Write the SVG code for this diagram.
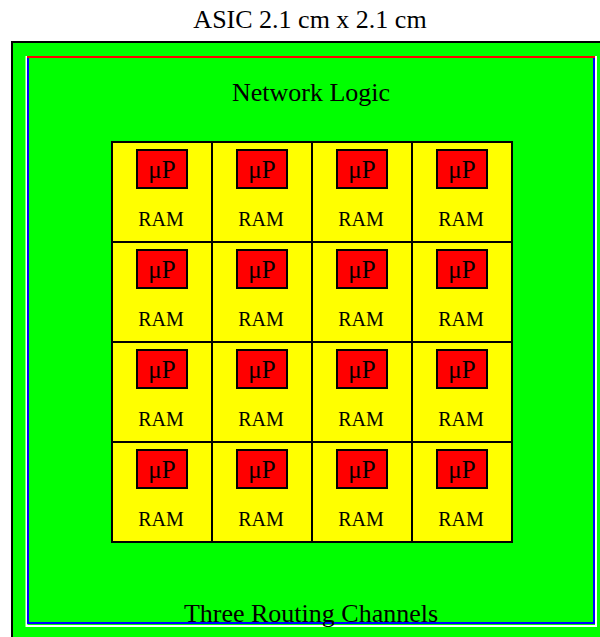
<svg xmlns="http://www.w3.org/2000/svg" width="600" height="637" viewBox="0 0 600 637">
<style>
text{font-family:"Liberation Serif","Times New Roman",serif;fill:#000;text-anchor:middle}
.lbl{font-size:26px}
.cell{fill:#ffff00;stroke:#000;stroke-width:2}
.up{fill:#ff0000;stroke:#000;stroke-width:2}
.upt{font-size:25px}
.ram{font-size:20px}
</style>
<defs>
<g id="tile">
<rect class="cell" x="1" y="1" width="100" height="100"/>
<rect class="up" x="26" y="9" width="50" height="38"/>
<text class="upt" x="51" y="37">μP</text>
<text class="ram" x="50" y="85">RAM</text>
</g>
</defs>
<rect width="600" height="637" fill="#fff"/>
<g id="asic">
<rect x="12" y="42" width="620" height="620" fill="#00ff00" stroke="#000" stroke-width="2"/>
<text class="lbl" x="310" y="28">ASIC 2.1 cm x 2.1 cm</text>
</g>
<g id="channels">
<polyline points="26.5,56 26.5,626 596,626 596,56" fill="none" stroke="#fff" stroke-width="2"/>
<rect x="28" y="57" width="566" height="566" fill="none" stroke="#0000ff" stroke-width="2"/>
<line x1="27" y1="57" x2="595" y2="57" stroke="#ff0000" stroke-width="2"/>
</g>
<g id="network-logic"><text class="lbl" x="311" y="101">Network Logic</text></g>
<g id="grid">
<g id="cell-0-0"><use href="#tile" x="111" y="141"/></g>
<g id="cell-0-1"><use href="#tile" x="211" y="141"/></g>
<g id="cell-0-2"><use href="#tile" x="311" y="141"/></g>
<g id="cell-0-3"><use href="#tile" x="411" y="141"/></g>
<g id="cell-1-0"><use href="#tile" x="111" y="241"/></g>
<g id="cell-1-1"><use href="#tile" x="211" y="241"/></g>
<g id="cell-1-2"><use href="#tile" x="311" y="241"/></g>
<g id="cell-1-3"><use href="#tile" x="411" y="241"/></g>
<g id="cell-2-0"><use href="#tile" x="111" y="341"/></g>
<g id="cell-2-1"><use href="#tile" x="211" y="341"/></g>
<g id="cell-2-2"><use href="#tile" x="311" y="341"/></g>
<g id="cell-2-3"><use href="#tile" x="411" y="341"/></g>
<g id="cell-3-0"><use href="#tile" x="111" y="441"/></g>
<g id="cell-3-1"><use href="#tile" x="211" y="441"/></g>
<g id="cell-3-2"><use href="#tile" x="311" y="441"/></g>
<g id="cell-3-3"><use href="#tile" x="411" y="441"/></g>
</g>
<g id="routing"><text class="lbl" x="311" y="622">Three Routing Channels</text></g>
</svg>
